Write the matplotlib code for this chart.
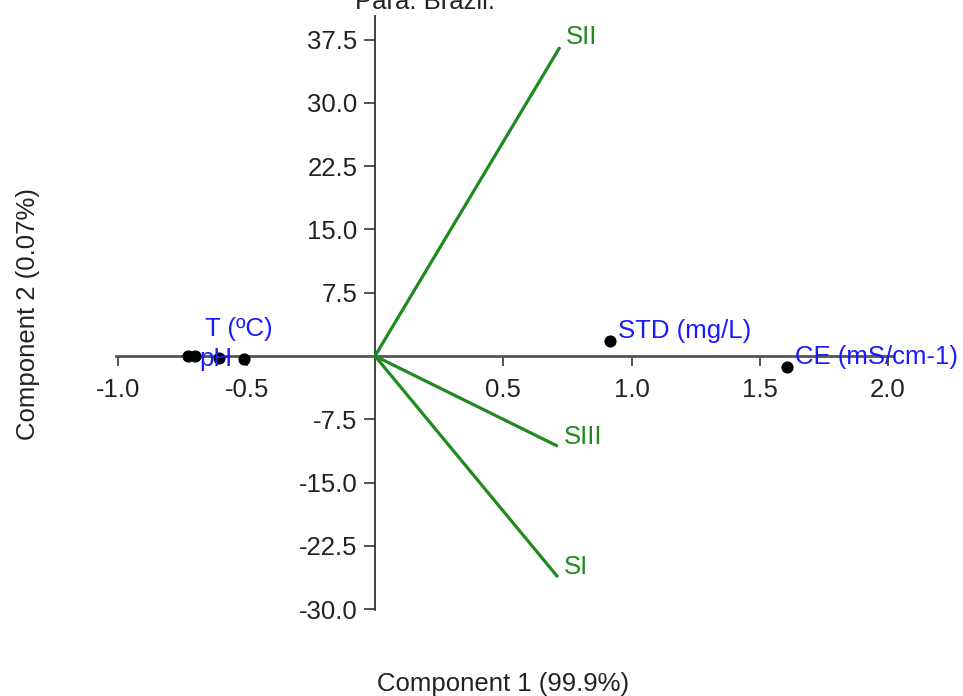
import matplotlib
matplotlib.use("Agg")
import matplotlib.pyplot as plt

plt.rcParams['font.family'] = ['Liberation Sans', 'DejaVu Sans']

# Loadings (variables) - black points with blue labels
var_names = ['pH', 'T (ºC)', '', '', 'STD (mg/L)', 'CE (mS/cm-1)']
var_x = [-0.73, -0.70, -0.61, -0.51, 0.916, 1.606]
var_y = [0.0, -0.05, -0.2, -0.4, 1.78, -1.3]

# Sample vectors (green lines from origin)
sample_names = ['SI', 'SII', 'SIII']
sample_x = [0.713, 0.721, 0.713]
sample_y = [-26.2, 36.6, -10.7]

x_ticks = [-1.0, -0.5, 0.5, 1.0, 1.5, 2.0]
y_ticks = [-30.0, -22.5, -15.0, -7.5, 7.5, 15.0, 22.5, 30.0, 37.5]

title_text = 'Pará. Brazil.'
xlabel = 'Component 1 (99.9%)'
ylabel = 'Component 2 (0.07%)'

W, H = 963, 696
FS = 18.5
fig = plt.figure(figsize=(W / 100, H / 100), dpi=100)
x0, x1 = -1.01, 2.02
y0, y1 = -30.1, 40.3
px_per_x = 256.5
px_per_y = 8.44
left_px = 375 + x0 * px_per_x
right_px = 375 + x1 * px_per_x
top_px = 356 - y1 * px_per_y
bot_px = 356 - y0 * px_per_y
ax = fig.add_axes([left_px / W, 1 - bot_px / H, (right_px - left_px) / W, (bot_px - top_px) / H])
ax.set_xlim(x0, x1)
ax.set_ylim(y0, y1)

green = '#1f8a1f'
blue = '#1a1aff'

for sx, sy, name in zip(sample_x, sample_y, sample_names):
    ax.plot([0, sx], [0, sy], color=green, lw=2.3, solid_capstyle='butt', zorder=3)
    ax.annotate(name, (sx, sy), xytext=(4, 7), textcoords='offset points',
                color=green, fontsize=FS, ha='left', va='center', zorder=5)

ax.scatter(var_x, var_y, s=60, color='black', zorder=4)
offsets = {'pH': (8, -2), 'T (ºC)': (7, 20), 'STD (mg/L)': (6, 7), 'CE (mS/cm-1)': (6, 7)}
for vx, vy, name in zip(var_x, var_y, var_names):
    if not name:
        continue
    ax.annotate(name, (vx, vy), xytext=offsets[name], textcoords='offset points',
                color=blue, fontsize=FS, ha='left', va='center', zorder=5)

for s in ['top', 'right']:
    ax.spines[s].set_visible(False)
ax.spines['left'].set_position(('data', 0))
ax.spines['bottom'].set_position(('data', 0))
ax.spines['left'].set_color('#333333')
ax.spines['left'].set_linewidth(1.3)
ax.spines['bottom'].set_color('#555555')
ax.spines['bottom'].set_linewidth(2.0)

ax.set_xticks(x_ticks)
ax.set_xticklabels([f'{t:.1f}' for t in x_ticks])
ax.set_yticks(y_ticks)
ax.set_yticklabels([f'{t:.1f}' for t in y_ticks])
ax.tick_params(axis='x', length=7.5, width=1.3, color='#444444', pad=8.5, labelsize=FS, labelcolor='#222222')
ax.tick_params(axis='y', length=8, width=1.3, color='#444444', pad=4.5, labelsize=FS, labelcolor='#222222')

fig.text(503 / W, 1 - 684 / H, xlabel, ha='center', va='center', fontsize=FS, color='#222222')
fig.text(28 / W, 1 - 314 / H, ylabel, ha='center', va='center', rotation=90, fontsize=FS, color='#222222')
fig.text(425 / W, 1 - 9 / H, title_text, ha='center', va='baseline', fontsize=FS, color='#222222')

fig.savefig('out.png', dpi=100)
